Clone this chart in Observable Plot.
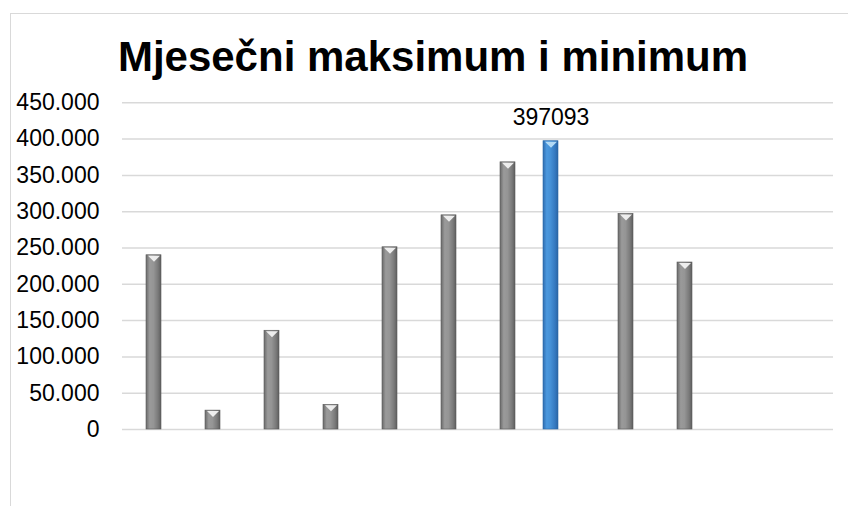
<!DOCTYPE html>
<html>
<head>
<meta charset="utf-8">
<script src="https://cdn.jsdelivr.net/npm/d3@7"></script>
<script src="https://cdn.jsdelivr.net/npm/@observablehq/plot@0.6"></script>
<style>
  html, body { margin: 0; padding: 0; background: #fff; }
  #wrap { position: relative; width: 848px; height: 506px; overflow: hidden; font-family: "Liberation Sans", Arial, sans-serif; }
  #frame { position: absolute; left: 10px; top: 13px; width: 900px; height: 600px; border-left: 1.5px solid #d9d9d9; border-top: 1.5px solid #d9d9d9; }
  #title { position: relative; height: 90px; box-sizing: border-box; padding-top: 33px; padding-left: 18px; line-height: 47px; text-align: center; font-size: 42px; font-weight: bold; color: #000; white-space: nowrap; }
  #chart { position: relative; }
  #chart svg { display: block; }
</style>
</head>
<body>
<div id="wrap">
  <div id="frame"></div>
  <div id="title">Mjesečni maksimum i minimum</div>
  <div id="chart"></div>
</div>
<script>
const months = ["siječanj", "veljača", "ožujak", "travanj", "svibanj", "lipanj", "srpanj", "kolovoz", "rujan", "listopad", "studeni", "prosinac"];
const grayValues = [240000, 26000, 136000, 34000, 251000, 295000, 368000, null, 297000, 230000, null, null];
const maxMonth = "kolovoz";
const maxValue = 397093;
const yTicks = [0, 50000, 100000, 150000, 200000, 250000, 300000, 350000, 400000, 450000];

const grayData = months.map((m, i) => ({month: m, value: grayValues[i]})).filter(d => d.value != null);
const maxData = [{month: maxMonth, value: maxValue}];

const fmt = d3.formatLocale({decimal: ",", thousands: ".", grouping: [3], currency: ["", ""]}).format(",.0f");

// flat downward cap triangle drawn on top of each bar
const capSymbol = {
  draw(context) {
    context.moveTo(-6, -3);
    context.lineTo(6, -3);
    context.lineTo(0, 3);
    context.closePath();
  }
};

const chart = Plot.plot({
  width: 848,
  height: 416,
  marginLeft: 122,
  marginRight: 15,
  marginTop: 12.3,
  marginBottom: 77,
  style: {fontFamily: "'Liberation Sans', Arial, sans-serif", fontSize: "23px", color: "#000", background: "transparent"},
  x: {domain: months, paddingInner: 0.747, paddingOuter: 0.3735, axis: null},
  y: {domain: [0, 450000], ticks: yTicks, tickFormat: fmt, tickSize: 0, tickPadding: 23, label: null},
  marks: [
    Plot.gridY(yTicks, {stroke: "#d9d9d9", strokeOpacity: 1, strokeWidth: 1.5}),
    Plot.axisY(yTicks, {tickSize: 0, tickPadding: 23, tickFormat: fmt, fontSize: 23, fill: "#000", label: null}),
    Plot.barY(grayData, {x: "month", y: "value", fill: "url(#gGray)", stroke: "#5a5a5a", strokeWidth: 0.6}),
    Plot.barY(maxData, {x: "month", y: "value", dx: -16, fill: "url(#gBlue)", stroke: "#2c6aa8", strokeWidth: 0.6}),
    Plot.dot(grayData, {x: "month", y: "value", symbol: capSymbol, r: 3, dy: 3.5, fill: "#f2f2f2", fillOpacity: 0.95, stroke: "none"}),
    Plot.dot(maxData, {x: "month", y: "value", symbol: capSymbol, r: 3, dy: 3.5, dx: -16, fill: "#b8ddf7", fillOpacity: 0.95, stroke: "none"}),
    Plot.text(maxData, {x: "month", y: "value", text: d => String(d.value), dx: -16, dy: -16, lineAnchor: "bottom", fontSize: 23, fill: "#000"})
  ]
});

const ns = "http://www.w3.org/2000/svg";
const defs = document.createElementNS(ns, "defs");
function grad(id, stops) {
  const g = document.createElementNS(ns, "linearGradient");
  g.setAttribute("id", id);
  g.setAttribute("x1", "0"); g.setAttribute("x2", "1"); g.setAttribute("y1", "0"); g.setAttribute("y2", "0");
  stops.forEach(([o, c]) => {
    const s = document.createElementNS(ns, "stop");
    s.setAttribute("offset", o);
    s.setAttribute("stop-color", c);
    g.appendChild(s);
  });
  defs.appendChild(g);
}
grad("gGray", [["0%", "#6a6a6a"], ["25%", "#9a9a9a"], ["50%", "#959595"], ["80%", "#7a7a7a"], ["100%", "#5e5e5e"]]);
grad("gBlue", [["0%", "#2f6db0"], ["25%", "#4b98de"], ["50%", "#4590d6"], ["80%", "#3579c0"], ["100%", "#2a64a3"]]);
chart.insertBefore(defs, chart.firstChild);

document.getElementById("chart").appendChild(chart);
</script>
</body>
</html>
